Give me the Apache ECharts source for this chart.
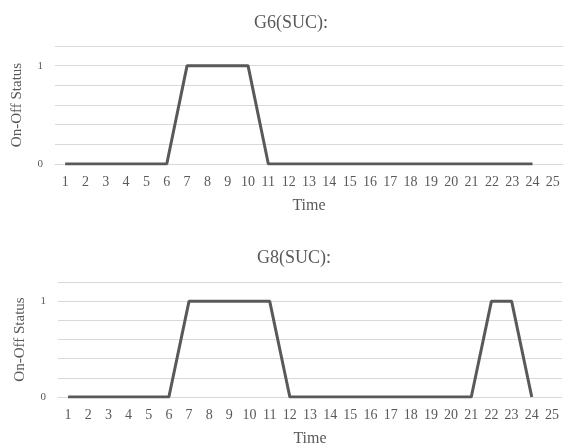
<!DOCTYPE html>
<html>
<head>
<meta charset="utf-8">
<script src="https://cdn.jsdelivr.net/npm/echarts@6/dist/echarts.min.js"></script>
<style>html,body{margin:0;padding:0;background:#fff;}#c{width:563px;height:448px;}</style>
</head>
<body>
<div id="c"></div>
<script>
const hours = ['1','2','3','4','5','6','7','8','9','10','11','12','13','14','15','16','17','18','19','20','21','22','23','24','25'];
const g6Status = [0,0,0,0,0,0,1,1,1,1,0,0,0,0,0,0,0,0,0,0,0,0,0,0];
const g8Status = [0,0,0,0,0,0,1,1,1,1,1,0,0,0,0,0,0,0,0,0,0,1,1,0];
const titles = ['G6(SUC):', 'G8(SUC):'];
const yTickLabels = {0: '0', 1: '1'};

const font = '"Liberation Serif", "Times New Roman", serif';
const textColor = '#595959';
const grids = [
  {left: 55, right: 0, top: 46, height: 118},
  {left: 58, right: 1, top: 282, height: 117}
];
const chart = echarts.init(document.getElementById('c'), null, {renderer: 'canvas'});
const option = {
  backgroundColor: '#fff',
  animation: false,
  title: [
    {text: titles[0], left: 286, top: 9, textAlign: 'center',
     textStyle: {fontFamily: font, fontSize: 18, fontWeight: 'normal', color: textColor}},
    {text: titles[1], left: 289, top: 244, textAlign: 'center',
     textStyle: {fontFamily: font, fontSize: 18, fontWeight: 'normal', color: textColor}}
  ],
  grid: grids,
  xAxis: grids.map((g, i) => ({
    type: 'category', gridIndex: i, data: hours, boundaryGap: true,
    name: 'Time', nameLocation: 'middle', nameGap: 34,
    nameTextStyle: {fontFamily: font, fontSize: 16, color: textColor},
    axisLine: {show: true, lineStyle: {color: '#d9d9d9', width: 1}},
    axisTick: {show: false},
    axisLabel: {fontFamily: font, fontSize: 14, color: textColor, margin: 11, interval: 0}
  })),
  yAxis: grids.map((g, i) => ({
    type: 'value', gridIndex: i, min: 0, max: 1.2, interval: 0.2,
    name: 'On-Off Status', nameLocation: 'middle', nameGap: 30, nameRotate: 90,
    nameTextStyle: {fontFamily: font, fontSize: 15, color: textColor},
    axisLine: {show: false}, axisTick: {show: false},
    splitLine: {show: true, lineStyle: {color: '#d9d9d9', width: 1}},
    axisLabel: {fontFamily: font, fontSize: 11, color: textColor, margin: 12,
      formatter: v => { const k = Math.round(v * 10) / 10; return yTickLabels[k] !== undefined ? yTickLabels[k] : ''; }}
  })),
  series: [
    {type: 'line', xAxisIndex: 0, yAxisIndex: 0, data: g6Status, symbol: 'none',
     lineStyle: {color: '#595959', width: 3}},
    {type: 'line', xAxisIndex: 1, yAxisIndex: 1, data: g8Status, symbol: 'none',
     lineStyle: {color: '#595959', width: 3}}
  ]
};
chart.setOption(option);
</script>
</body>
</html>
